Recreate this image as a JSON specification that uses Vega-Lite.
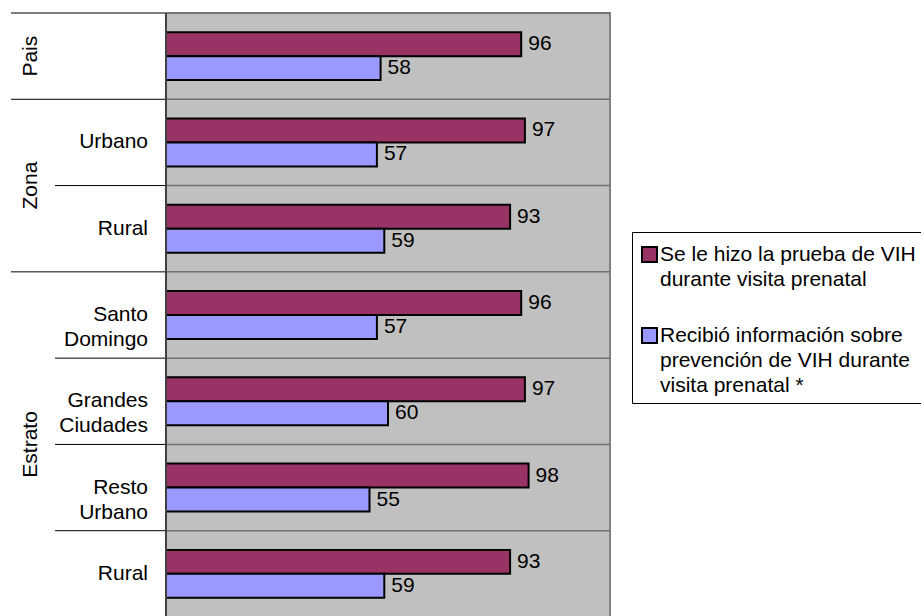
{
  "$schema": "https://vega.github.io/schema/vega-lite/v6.json",
  "background": "white",
  "padding": {"left": 10, "top": 11, "right": 0, "bottom": 0},
  "spacing": 0,
  "bounds": "flush",
  "config": {
    "font": "Liberation Sans",
    "concat": {"spacing": 0},
    "style": {"guide-label": {"lineHeight": 25}}
  },
  "datasets": {
    "barras": [
      {"fila": "Pais", "serie": "Se le hizo la prueba de VIH durante visita prenatal", "valor": 96},
      {"fila": "Pais", "serie": "Recibió información sobre prevención de VIH durante visita prenatal *", "valor": 58},
      {"fila": "Zona: Urbano", "serie": "Se le hizo la prueba de VIH durante visita prenatal", "valor": 97},
      {"fila": "Zona: Urbano", "serie": "Recibió información sobre prevención de VIH durante visita prenatal *", "valor": 57},
      {"fila": "Zona: Rural", "serie": "Se le hizo la prueba de VIH durante visita prenatal", "valor": 93},
      {"fila": "Zona: Rural", "serie": "Recibió información sobre prevención de VIH durante visita prenatal *", "valor": 59},
      {"fila": "Estrato: Santo Domingo", "serie": "Se le hizo la prueba de VIH durante visita prenatal", "valor": 96},
      {"fila": "Estrato: Santo Domingo", "serie": "Recibió información sobre prevención de VIH durante visita prenatal *", "valor": 57},
      {"fila": "Estrato: Grandes Ciudades", "serie": "Se le hizo la prueba de VIH durante visita prenatal", "valor": 97},
      {"fila": "Estrato: Grandes Ciudades", "serie": "Recibió información sobre prevención de VIH durante visita prenatal *", "valor": 60},
      {"fila": "Estrato: Resto Urbano", "serie": "Se le hizo la prueba de VIH durante visita prenatal", "valor": 98},
      {"fila": "Estrato: Resto Urbano", "serie": "Recibió información sobre prevención de VIH durante visita prenatal *", "valor": 55},
      {"fila": "Estrato: Rural", "serie": "Se le hizo la prueba de VIH durante visita prenatal", "valor": 93},
      {"fila": "Estrato: Rural", "serie": "Recibió información sobre prevención de VIH durante visita prenatal *", "valor": 59}
    ],
    "filas": [
      {"fila": "Pais", "etiqueta": "", "linea": "grupo"},
      {"fila": "Zona: Urbano", "etiqueta": "Urbano", "linea": "grupo"},
      {"fila": "Zona: Rural", "etiqueta": "Rural", "linea": "interno"},
      {"fila": "Estrato: Santo Domingo", "etiqueta": "Santo\nDomingo", "linea": "grupo"},
      {"fila": "Estrato: Grandes Ciudades", "etiqueta": "Grandes\nCiudades", "linea": "interno"},
      {"fila": "Estrato: Resto Urbano", "etiqueta": "Resto\nUrbano", "linea": "interno"},
      {"fila": "Estrato: Rural", "etiqueta": "Rural", "linea": "interno"}
    ],
    "grupos": [
      {"grupo": "Pais", "fila": "Pais"},
      {"grupo": "Zona", "fila": "Zona: Rural"},
      {"grupo": "Estrato", "fila": "Estrato: Resto Urbano"}
    ]
  },
  "hconcat": [
    {
      "width": 155,
      "height": 604,
      "view": {"stroke": null, "fill": null},
      "layer": [
        {
          "data": {"name": "filas"},
          "transform": [{"filter": "datum.linea == 'grupo'"}],
          "mark": {"type": "rule", "color": "#000000", "strokeWidth": 1},
          "encoding": {
            "y": {"field": "fila", "type": "nominal", "bandPosition": 0, "axis": null,
                  "scale": {"domain": ["Pais", "Zona: Urbano", "Zona: Rural", "Estrato: Santo Domingo", "Estrato: Grandes Ciudades", "Estrato: Resto Urbano", "Estrato: Rural"], "paddingInner": 0, "paddingOuter": 0}},
            "x": {"datum": 0, "type": "quantitative", "scale": {"domain": [0, 1]}, "axis": null},
            "x2": {"datum": 1}
          }
        },
        {
          "data": {"name": "filas"},
          "transform": [{"filter": "datum.linea == 'interno'"}],
          "mark": {"type": "rule", "color": "#000000", "strokeWidth": 1},
          "encoding": {
            "y": {"field": "fila", "type": "nominal", "bandPosition": 0, "axis": null},
            "x": {"datum": 0.284, "type": "quantitative", "axis": null},
            "x2": {"datum": 1}
          }
        },
        {
          "data": {"name": "filas"},
          "mark": {"type": "text", "align": "right", "baseline": "middle", "fontSize": 21, "lineBreak": "\n", "lineHeight": 25, "color": "#000000"},
          "encoding": {
            "y": {"field": "fila", "type": "nominal", "bandPosition": 0.5, "axis": null},
            "x": {"datum": 0.884, "type": "quantitative", "axis": null},
            "text": {"field": "etiqueta"}
          }
        },
        {
          "data": {"name": "grupos"},
          "transform": [{"filter": "datum.grupo == 'Pais'"}],
          "mark": {"type": "text", "align": "center", "baseline": "alphabetic", "angle": 270, "fontSize": 21, "color": "#000000"},
          "encoding": {
            "y": {"field": "fila", "type": "nominal", "bandPosition": 0.5, "axis": null},
            "x": {"datum": 0.168, "type": "quantitative", "axis": null},
            "text": {"field": "grupo"}
          }
        },
        {
          "data": {"name": "grupos"},
          "transform": [{"filter": "datum.grupo != 'Pais'"}],
          "mark": {"type": "text", "align": "center", "baseline": "alphabetic", "angle": 270, "fontSize": 21, "color": "#000000"},
          "encoding": {
            "y": {"field": "fila", "type": "nominal", "bandPosition": 0, "axis": null},
            "x": {"datum": 0.168, "type": "quantitative", "axis": null},
            "text": {"field": "grupo"}
          }
        }
      ]
    },
    {
      "width": 444,
      "height": 604,
      "view": {"fill": "#C0C0C0", "stroke": "#808080", "strokeWidth": 2},
      "layer": [
        {
          "data": {"name": "filas"},
          "mark": {"type": "rule", "color": "#707070", "strokeWidth": 1.5},
          "encoding": {
            "y": {"field": "fila", "type": "nominal", "bandPosition": 0, "axis": null,
                  "scale": {"domain": ["Pais", "Zona: Urbano", "Zona: Rural", "Estrato: Santo Domingo", "Estrato: Grandes Ciudades", "Estrato: Resto Urbano", "Estrato: Rural"], "paddingInner": 0, "paddingOuter": 0}}
          }
        },
        {
          "data": {"name": "barras"},
          "mark": {"type": "bar", "stroke": "#000000", "strokeWidth": 2},
          "encoding": {
            "y": {"field": "fila", "type": "nominal", "axis": null},
            "yOffset": {"field": "serie", "type": "nominal",
                        "sort": ["Se le hizo la prueba de VIH durante visita prenatal", "Recibió información sobre prevención de VIH durante visita prenatal *"],
                        "scale": {"paddingInner": 0, "paddingOuter": 0.8}},
            "x": {"field": "valor", "type": "quantitative", "scale": {"domain": [0, 120]}, "axis": null},
            "color": {"field": "serie", "type": "nominal",
                      "scale": {"domain": ["Se le hizo la prueba de VIH durante visita prenatal", "Recibió información sobre prevención de VIH durante visita prenatal *"], "range": ["#993366", "#9999FF"]},
                      "legend": {
                        "title": " ", "titleFontSize": 2, "titlePadding": 3,
                        "orient": "none", "legendX": 621, "legendY": 219, "direction": "vertical",
                        "symbolType": "square", "symbolSize": 225, "symbolStrokeColor": "#000000", "symbolStrokeWidth": 2,
                        "labelFontSize": 21, "labelFont": "Liberation Sans", "labelColor": "#000000", "labelLimit": 400, "labelOffset": 0,
                        "rowPadding": 34, "padding": 7, "strokeColor": "#000000", "fillColor": "#FFFFFF",
                        "labelExpr": "datum.label == 'Se le hizo la prueba de VIH durante visita prenatal' ? ['Se le hizo la prueba de VIH', 'durante visita prenatal'] : ['Recibió información sobre', 'prevención de VIH durante', 'visita prenatal *']"
                      }}
          }
        },
        {
          "data": {"name": "barras"},
          "mark": {"type": "text", "align": "left", "baseline": "middle", "dx": 7, "fontSize": 21, "color": "#000000"},
          "encoding": {
            "y": {"field": "fila", "type": "nominal", "axis": null},
            "yOffset": {"field": "serie", "type": "nominal",
                        "sort": ["Se le hizo la prueba de VIH durante visita prenatal", "Recibió información sobre prevención de VIH durante visita prenatal *"]},
            "x": {"field": "valor", "type": "quantitative", "axis": null},
            "text": {"field": "valor", "type": "quantitative"}
          }
        },
        {
          "data": {"name": "barras"},
          "mark": {"type": "rule", "color": "#404040", "strokeWidth": 2},
          "encoding": {
            "x": {"datum": 0, "type": "quantitative", "axis": null}
          }
        }
      ]
    }
  ]
}
